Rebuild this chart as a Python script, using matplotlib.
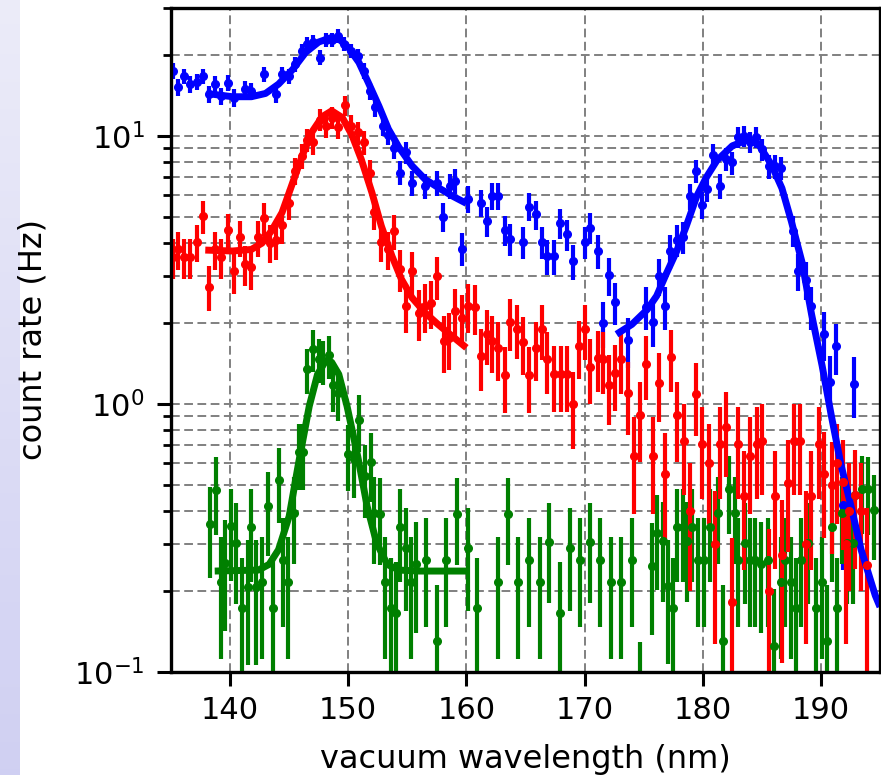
import numpy as np
import matplotlib
matplotlib.use("Agg")
import matplotlib.pyplot as plt

blue_wl = [135.2, 135.6, 136.1, 136.6, 137.2, 137.7, 138.2, 138.7, 139.2, 139.8,
           140.3, 141.3, 141.8, 142.9, 143.9, 144.4, 145.0, 145.5, 146.1, 146.5,
           147.0, 147.6, 148.1, 148.6, 149.1, 149.6, 150.2, 150.8, 151.3, 151.8,
           152.3, 152.9, 153.4, 153.9, 154.4, 154.9, 155.4, 156.5, 157.5, 158.0,
           158.6, 159.0, 159.6, 160.1, 161.2, 161.7, 162.2, 162.7, 163.3, 163.7,
           164.8, 165.3, 165.9, 166.4, 166.8, 167.4, 167.9, 168.5, 169.0, 170.0,
           170.5, 171.1, 171.6, 172.1, 172.6, 173.7, 175.2, 175.8, 176.3, 176.8,
           177.2, 177.8, 178.3, 178.9, 179.4, 179.9, 180.4, 180.9, 181.5, 182.0,
           182.5, 183.0, 183.5, 184.0, 184.5, 185.0, 185.6, 186.1, 186.6, 187.6,
           188.1, 188.7, 189.2, 190.3, 190.8, 191.3, 191.9, 192.8]
blue_rate = [17.5, 15.2, 16.7, 15.6, 15.9, 16.7, 14.3, 15.6, 14.1, 15.8,
             13.9, 14.9, 14.7, 17.0, 14.3, 17.0, 16.7, 18.5, 20.8, 22.0,
             22.4, 19.6, 22.8, 22.8, 23.6, 22.0, 20.8, 19.9, 17.5, 14.7,
             12.8, 10.9, 10.1, 9.05, 7.3, 8.7, 6.7, 6.5, 6.7, 5.0,
             6.5, 6.8, 3.8, 5.84, 5.64, 4.82, 5.97, 5.97, 4.46, 4.14,
             4.02, 5.45, 5.10, 4.02, 3.56, 3.56, 4.72, 4.30, 3.40, 4.02,
             4.55, 3.72, 2.01, 3.02, 2.40, 1.73, 2.30, 2.02, 3.0, 2.31,
             3.72, 4.1, 4.2, 5.95, 7.4, 5.53, 6.35, 8.5, 6.5, 8.2,
             7.96, 9.9, 10.0, 9.5, 9.9, 8.9, 7.7, 7.7, 7.6, 4.43,
             3.13, 2.91, 2.31, 1.82, 1.21, 1.64, 0.42, 1.19]

red_wl = [135.2, 135.6, 136.1, 136.6, 137.2, 137.7, 138.2, 138.7, 139.2, 139.8,
          140.3, 140.8, 141.3, 141.8, 142.4, 142.9, 143.4, 143.9, 144.4, 145.0,
          145.5, 146.1, 146.5, 147.0, 147.6, 148.1, 148.6, 149.1, 149.7, 150.2,
          150.8, 151.3, 151.8, 152.2, 152.8, 153.4, 153.9, 154.4, 154.9, 155.4,
          156.0, 156.5, 157.0, 157.5, 158.1, 158.5, 159.0, 159.6, 160.1, 160.7,
          161.2, 161.7, 162.2, 162.7, 163.3, 163.7, 164.3, 164.8, 165.3, 165.9,
          166.4, 166.8, 167.4, 168.0, 168.5, 169.0, 169.5, 170.0, 170.5, 171.1,
          171.6, 172.1, 172.6, 173.1, 173.7, 174.2, 174.7, 175.2, 175.8, 176.3,
          176.8, 177.3, 177.8, 178.4, 178.9, 179.4, 179.9, 180.5, 181.0, 181.5,
          182.0, 182.5, 183.0, 183.5, 184.0, 184.6, 185.0, 185.6, 186.1, 186.7,
          187.2, 187.7, 188.2, 188.7, 189.2, 189.8, 190.3, 190.9, 191.4, 191.9,
          192.1, 192.4, 192.9, 193.4, 193.9]
red_rate = [3.52, 3.77, 3.52, 3.52, 4.02, 5.03, 2.74, 3.77, 3.52, 4.46,
            3.13, 4.18, 3.32, 3.23, 4.18, 4.92, 4.0, 4.09, 4.64, 5.61,
            7.40, 8.42, 9.66, 9.45, 11.5, 10.9, 11.7, 10.8, 13.0, 10.9,
            10.3, 9.45, 7.26, 5.18, 4.02, 3.77, 4.42, 3.18, 2.32, 3.13,
            2.19, 2.32, 2.39, 3.0, 1.72, 1.76, 2.22, 2.10, 2.32, 2.29,
            1.51, 1.82, 1.72, 1.62, 1.28, 2.02, 1.91, 1.70, 1.28, 1.62,
            1.90, 1.47, 1.29, 1.29, 1.29, 0.996, 1.64, 1.90, 1.37, 1.49,
            1.47, 1.18, 1.30, 1.47, 1.10, 0.64, 0.906, 1.41, 0.64, 1.20,
            0.547, 1.50, 0.906, 0.727, 0.40, 1.09, 0.706, 0.60, 0.30, 0.706,
            0.82, 0.182, 0.71, 0.453, 0.642, 0.706, 0.729, 0.20, 0.455, 0.274,
            0.506, 0.729, 0.729, 0.30, 0.453, 0.706, 0.55, 0.50, 0.60, 0.51,
            0.30, 0.40, 0.457, 0.40, 0.25]

green_wl = [138.3, 138.8, 139.2, 139.6, 140.1, 140.5, 141.0, 141.5, 141.8, 142.2,
            142.7, 143.2, 143.6, 144.1, 144.5, 144.9, 145.4, 145.8, 146.2, 146.5,
            147.0, 147.5, 147.9, 148.4, 148.7, 149.1, 150.0, 150.5, 150.9, 151.4,
            151.9, 152.2, 152.7, 153.1, 153.6, 154.0, 154.4, 154.9, 155.3, 155.7,
            156.6, 157.5, 158.3, 159.2, 160.1, 160.9, 162.7, 163.5, 164.4, 165.3,
            166.2, 167.0, 167.9, 168.8, 169.6, 170.5, 171.3, 172.2, 173.1, 174.0,
            174.7, 175.7, 176.1, 176.6, 177.1, 177.5, 177.8, 178.3, 178.7, 179.1,
            179.6, 180.1, 180.6, 181.3, 181.7, 182.2, 182.7, 183.0, 183.6, 184.0,
            184.4, 184.9, 185.5, 186.0, 186.6, 187.0, 187.5, 187.9, 188.3, 188.9,
            189.6, 190.1, 190.5, 190.9, 191.4, 191.8, 192.2, 192.7, 192.9, 193.5,
            194.0, 194.5]
green_rate = [0.357, 0.479, 0.216, 0.255, 0.350, 0.303, 0.173, 0.208, 0.348, 0.208,
              0.216, 0.415, 0.173, 0.522, 0.261, 0.216, 0.392, 0.661, 0.661, 1.35,
              1.60, 1.47, 1.45, 1.52, 1.18, 1.10, 0.653, 0.621, 0.870, 0.538,
              0.606, 0.392, 0.390, 0.216, 0.173, 0.166, 0.348, 0.290, 0.216, 0.252,
              0.261, 0.130, 0.261, 0.390, 0.290, 0.173, 0.216, 0.390, 0.216, 0.261,
              0.216, 0.305, 0.166, 0.290, 0.261, 0.305, 0.261, 0.216, 0.216, 0.261,
              0.07, 0.249, 0.330, 0.307, 0.209, 0.173, 0.348, 0.348, 0.307, 0.348,
              0.261, 0.261, 0.348, 0.392, 0.130, 0.482, 0.392, 0.261, 0.303, 0.261,
              0.261, 0.252, 0.261, 0.125, 0.216, 0.261, 0.216, 0.173, 0.261, 0.303,
              0.173, 0.216, 0.130, 0.348, 0.173, 0.392, 0.303, 0.303, 0.459, 0.482,
              0.48, 0.403]

# dwell time per point (s) -> Poisson error bars on the rates
dwell_blue, dwell_red, dwell_green = 13.0, 10.0, 20.0

# fitted peak profiles
blue_fit1_wl = [138.0, 140.2, 141.8, 143.0, 144.1, 145.3, 146.4, 147.5, 148.6, 149.2,
                150.0, 150.9, 151.7, 152.6, 153.4, 154.3, 155.4, 156.5, 157.6, 158.8, 160.0]
blue_fit1_rate = [14.4, 14.0, 14.0, 14.4, 15.6, 17.7, 20.5, 22.4, 23.3, 23.0,
                  21.4, 18.8, 15.8, 12.9, 10.6, 9.05, 7.73, 6.89, 6.42, 5.97, 5.6]
red_fit_wl = [137.9, 140.2, 141.8, 142.7, 143.5, 144.4, 145.2, 146.1, 146.9, 147.8,
              148.6, 149.5, 150.3, 151.1, 152.0, 152.8, 153.7, 154.5, 155.4, 156.5,
              157.6, 158.8, 160.0]
red_fit_rate = [3.75, 3.72, 3.77, 3.98, 4.42, 5.18, 6.51, 8.42, 10.3, 11.8,
                12.4, 11.7, 10.1, 8.18, 6.15, 4.61, 3.56, 2.92, 2.49, 2.19,
                1.98, 1.79, 1.62]
green_fit_wl = [138.7, 142.4, 143.3, 144.1, 145.0, 145.8, 146.7, 147.4, 148.1, 148.6,
                149.2, 149.9, 150.8, 151.6, 152.4, 153.3, 154.3, 156.0, 160.0]
green_fit_rate = [0.238, 0.240, 0.252, 0.286, 0.381, 0.603, 0.981, 1.29, 1.45, 1.43,
                  1.29, 0.98, 0.638, 0.415, 0.303, 0.252, 0.240, 0.238, 0.238]
blue_fit2_wl = [172.7, 174.0, 175.3, 176.1, 176.9, 177.8, 178.6, 179.5, 180.3, 181.2,
                182.5, 183.7, 184.7, 185.8, 186.7, 187.5, 188.4, 189.2, 190.1, 190.9,
                191.7, 192.6, 193.4, 194.6, 195.0]
blue_fit2_rate = [1.82, 1.98, 2.25, 2.53, 3.05, 3.72, 4.6, 5.97, 7.0, 8.1,
                  9.18, 9.63, 9.33, 7.83, 6.38, 4.80, 3.38, 2.17, 1.39, 0.895,
                  0.593, 0.406, 0.286, 0.193, 0.175]


def poisson_err(rate, dwell):
    rate = np.asarray(rate, dtype=float)
    return np.sqrt(rate / dwell)


fig = plt.figure(figsize=(8.81, 7.75), dpi=100)

# lavender slide edge on the left
strip = fig.add_axes([0, 0, 20 / 881, 1])
grad = np.linspace(0, 1, 256).reshape(-1, 1)
cols = np.array([0.925, 0.925, 0.975]) * (1 - grad[..., None]) + \
    np.array([0.815, 0.815, 0.95]) * grad[..., None]
strip.imshow(cols, aspect="auto")
strip.axis("off")

ax = fig.add_axes([171 / 881, 1 - 672 / 775, (880 - 171) / 881, (672 - 8) / 775])
ax.set_yscale("log")

ebkw = dict(fmt="o", ms=5.5, elinewidth=3.0, capsize=0)
ax.errorbar(blue_wl, blue_rate, yerr=poisson_err(blue_rate, dwell_blue), color="b", **ebkw)
ax.errorbar(green_wl, green_rate, yerr=poisson_err(green_rate, dwell_green), color="g", **ebkw)
ax.errorbar(red_wl, red_rate, yerr=poisson_err(red_rate, dwell_red), color="r", **ebkw)

fitkw = dict(lw=5.0, solid_joinstyle="round", solid_capstyle="butt")
ax.plot(blue_fit1_wl, blue_fit1_rate, color="b", **fitkw)
ax.plot(red_fit_wl, red_fit_rate, color="r", **fitkw)
ax.plot(green_fit_wl, green_fit_rate, color="g", **fitkw)
ax.plot(blue_fit2_wl, blue_fit2_rate, color="b", **fitkw)

ax.set_xlim(135, 195)
ax.set_ylim(0.1, 30)
gridkw = dict(ls=(0, (4.5, 2.3)), color="0.5", lw=1.4)
ax.grid(True, which="major", axis="x", **gridkw)
ax.grid(True, which="both", axis="y", **gridkw)

for s in ax.spines.values():
    s.set_linewidth(2.4)
ax.tick_params(which="major", length=10, width=2.2, labelsize=22, pad=7)
ax.tick_params(axis="y", which="major", pad=9)
ax.tick_params(which="minor", length=5.5, width=2.0)

ax.set_xlabel("vacuum wavelength (nm)", fontsize=23, labelpad=14)
ax.set_ylabel("count rate (Hz)", fontsize=23, labelpad=18)

fig.savefig("out.png", dpi=100)
